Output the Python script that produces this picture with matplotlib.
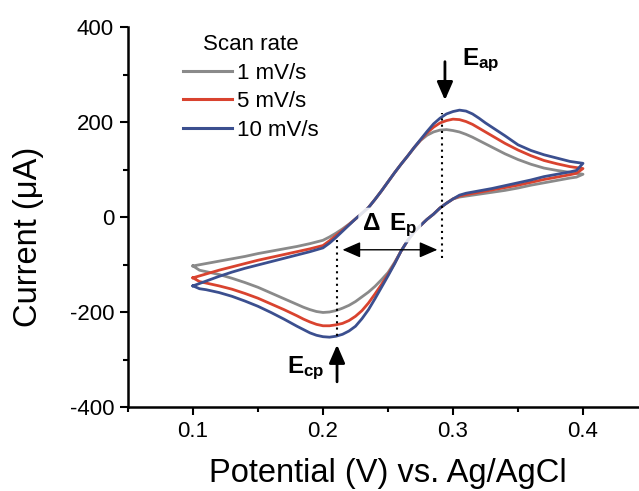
import matplotlib
matplotlib.use("Agg")
import matplotlib.pyplot as plt
from matplotlib.patches import FancyArrowPatch
from matplotlib.ticker import MultipleLocator

plt.rcParams['font.family'] = ['Liberation Sans', 'DejaVu Sans']
plt.rcParams['mathtext.fontset'] = 'custom'
plt.rcParams['mathtext.rm'] = 'Liberation Sans'
plt.rcParams['mathtext.bf'] = 'Liberation Sans:bold'
plt.rcParams['mathtext.it'] = 'Liberation Sans:italic'

# ---- cyclic voltammograms: forward (anodic) sweep 0.1 -> 0.4 V ----
fwd_potential = [0.100, 0.110, 0.120, 0.130, 0.140, 0.150, 0.160, 0.170, 0.180, 0.190,
                 0.200, 0.205, 0.210, 0.215, 0.220, 0.225, 0.230, 0.235, 0.240, 0.245,
                 0.250, 0.255, 0.260, 0.265, 0.270, 0.275, 0.280, 0.285, 0.290, 0.295,
                 0.300, 0.305, 0.310, 0.315, 0.320, 0.325, 0.330, 0.340, 0.350, 0.360,
                 0.370, 0.380, 0.390, 0.400]

fwd_1mV = [-103, -98, -93, -88, -83, -77, -72, -67, -62, -56,
           -49, -42, -34, -25, -15, -4, 8, 20, 37, 55,
           74, 93, 111, 128, 145, 161, 172, 179, 183, 184,
           182, 179, 174, 168, 161, 154, 147, 133, 121, 111,
           103, 98, 94, 90]
fwd_5mV = [-128, -120, -112, -105, -98, -91, -85, -79, -73, -67,
           -60, -50, -39, -28, -16, -4, 8, 20, 37, 55,
           74, 93, 111, 128, 146, 162, 177, 189, 198, 203,
           206, 205, 201, 195, 187, 179, 171, 155, 141, 129,
           119, 112, 106, 102]
fwd_10mV = [-145, -135, -125, -116, -108, -101, -94, -87, -80, -73,
            -65, -55, -43, -30, -17, -4, 8, 20, 37, 55,
            74, 93, 111, 128, 146, 163, 180, 196, 208, 217,
            222, 225, 223, 217, 208, 198, 189, 171, 152, 140,
            131, 124, 117, 113]

# ---- reverse (cathodic) sweep 0.4 -> 0.1 V ----
rev_potential = [0.395, 0.390, 0.380, 0.370, 0.360, 0.350, 0.340, 0.330, 0.320, 0.310,
                 0.305, 0.300, 0.295, 0.290, 0.285, 0.280, 0.275, 0.270, 0.265, 0.260,
                 0.255, 0.250, 0.245, 0.240, 0.235, 0.230, 0.225, 0.220, 0.215, 0.210,
                 0.205, 0.200, 0.195, 0.190, 0.185, 0.180, 0.170, 0.160, 0.150, 0.140,
                 0.130, 0.120, 0.110, 0.105]

rev_1mV = [84, 82, 77, 72, 67, 61, 56, 52, 48, 44,
           42, 38, 29, 19, 6, -5, -18, -32, -50, -72,
           -96, -117, -132, -146, -158, -168, -178, -186, -192, -197,
           -200, -201, -199, -195, -190, -184, -172, -160, -148, -138,
           -129, -121, -115, -112]
rev_5mV = [92, 89, 84, 79, 73, 67, 62, 57, 52, 47,
           44, 38, 29, 19, 6, -5, -18, -32, -50, -72,
           -98, -121, -142, -162, -181, -197, -209, -218, -224, -227,
           -229, -229, -226, -221, -215, -208, -195, -183, -171, -161,
           -152, -145, -139, -136]
rev_10mV = [98, 95, 90, 85, 78, 72, 66, 60, 55, 50,
            46, 38, 29, 19, 6, -5, -18, -32, -50, -72,
            -99, -124, -148, -172, -195, -214, -230, -240, -247, -251,
            -253, -252, -249, -244, -237, -230, -215, -201, -188, -177,
            -167, -159, -153, -151]

scan_labels = ["1 mV/s", "5 mV/s", "10 mV/s"]
scan_colors = ["#8a8a8a", "#d9432f", "#3b4f8f"]

# peak markers
E_cp, E_ap = 0.2108, 0.2915

fig = plt.figure(figsize=(6.39, 4.91), dpi=100)
ax = fig.add_axes([128 / 639, 84 / 491, 511 / 639, 380 / 491])

for fwd, rev, lab, col in zip([fwd_1mV, fwd_5mV, fwd_10mV],
                              [rev_1mV, rev_5mV, rev_10mV],
                              scan_labels, scan_colors):
    xs = fwd_potential + rev_potential + fwd_potential[:1]
    ys = fwd + rev + fwd[:1]
    ax.plot(xs, ys, color=col, lw=2.0, label=lab, solid_joinstyle='round', zorder=3)

# dotted peak-position guides
ax.plot([E_cp, E_cp], [-48, -252], ls=(0, (1, 2)), color='black', lw=1.5, zorder=4)
ax.plot([E_ap, E_ap], [-86, 218], ls=(0, (1, 2)), color='black', lw=1.5, zorder=4)

# peak separation double arrow
ax.add_patch(FancyArrowPatch((0.2150, -69), (0.2880, -69),
                             arrowstyle='<|-|>,head_length=0.55,head_width=0.24',
                             mutation_scale=20, color='black', lw=1.0,
                             shrinkA=0, shrinkB=0, zorder=5))
ax.text(0.2300, -27, r'$\mathbf{\Delta\ \,E}_\mathbf{p}$', fontsize=17.5,
        ha='left', va='baseline', zorder=6,
        bbox=dict(boxstyle='round,pad=0.15', fc='white', ec='none', alpha=0.85))

# anodic / cathodic peak arrows
ax.add_patch(FancyArrowPatch((0.2938, 327), (0.2938, 246),
                             arrowstyle='-|>,head_length=0.55,head_width=0.24',
                             mutation_scale=20, color='black', lw=2.0,
                             shrinkA=0, shrinkB=0, zorder=5))
ax.add_patch(FancyArrowPatch((0.2108, -347), (0.2108, -269),
                             arrowstyle='-|>,head_length=0.55,head_width=0.24',
                             mutation_scale=20, color='black', lw=2.0,
                             shrinkA=0, shrinkB=0, zorder=5))
ax.text(0.3069, 320, r'$\mathbf{E}_\mathbf{ap}$', fontsize=17.5, ha='left', va='baseline')
ax.text(0.1723, -328, r'$\mathbf{E}_\mathbf{cp}$', fontsize=17.5, ha='left', va='baseline')

# axes styling
ax.set_xlim(0.05, 0.05 + 511 / 1300)
ax.set_ylim(-400, 400)
ax.xaxis.set_minor_locator(MultipleLocator(0.05))
ax.yaxis.set_minor_locator(MultipleLocator(100))
ax.set_xticks([0.1, 0.2, 0.3, 0.4])
ax.set_xticklabels(['0.1', '0.2', '0.3', '0.4'])
ax.set_yticks([-400, -200, 0, 200, 400])
ax.set_yticklabels(['-400', '-200', '0', '200', '400'])

for side in ('top', 'right'):
    ax.spines[side].set_visible(False)
for side in ('left', 'bottom'):
    ax.spines[side].set_linewidth(1.8)
ax.tick_params(which='major', direction='out', length=6, width=1.5, labelsize=16, pad=4)
ax.tick_params(which='minor', direction='out', length=3.5, width=1.5)

ax.set_xlabel('Potential (V) vs. Ag/AgCl', fontsize=23.5)
ax.set_ylabel('Current (\u03bcA)', fontsize=23.5)
ax.xaxis.set_label_coords(0.509, -0.135)
ax.yaxis.set_label_coords(-0.165, 0.447)

leg = ax.legend(title='Scan rate', loc='upper left', frameon=False, fontsize=16,
                title_fontsize=16, handlelength=2.2, handletextpad=0.25,
                labelspacing=0.34, borderpad=0, borderaxespad=0,
                bbox_to_anchor=(183 / 639, 1 - 34 / 491), bbox_transform=fig.transFigure)
for line in leg.get_lines():
    line.set_linewidth(2.2)

fig.savefig('out.png', dpi=100)
